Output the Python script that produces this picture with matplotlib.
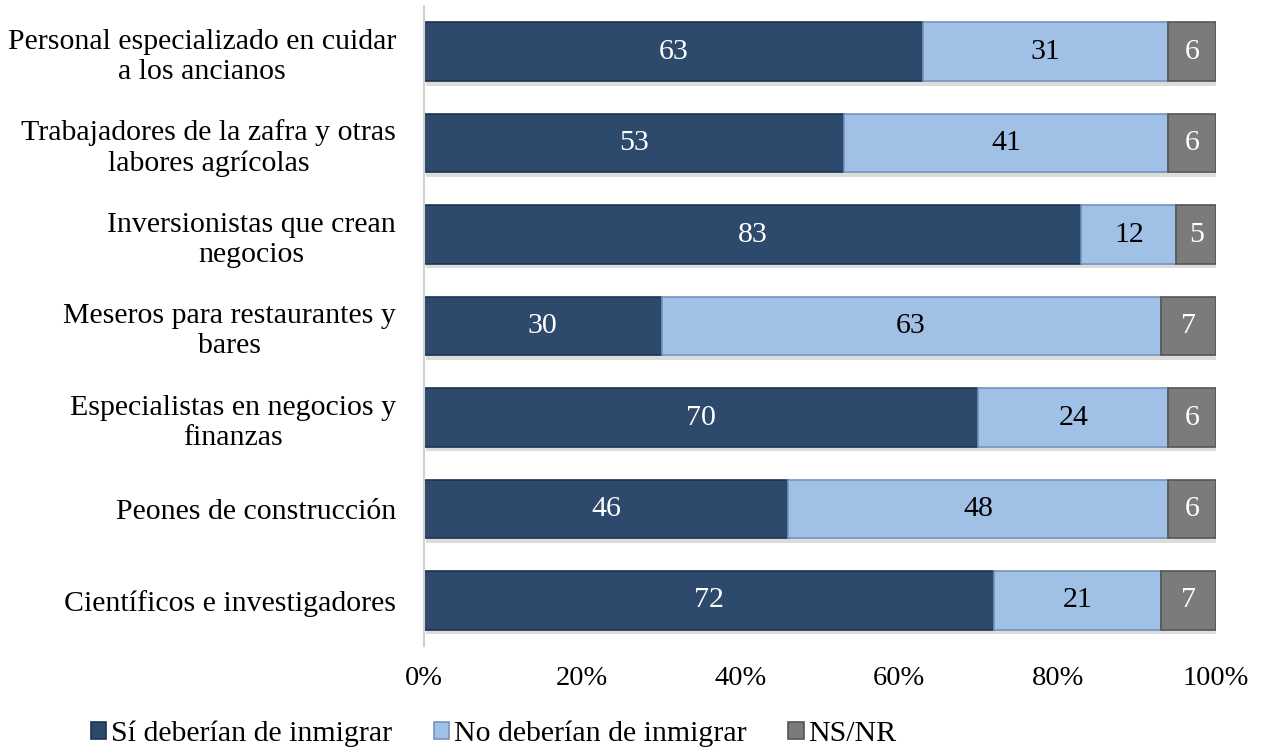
import matplotlib.pyplot as plt
import numpy as np

plt.rcParams['font.family'] = ['Liberation Serif', 'DejaVu Serif']

categories = [
    "Personal especializado en cuidar\na los ancianos",
    "Trabajadores de la zafra y otras\nlabores agrícolas",
    "Inversionistas que crean\nnegocios",
    "Meseros para restaurantes y\nbares",
    "Especialistas en negocios y\nfinanzas",
    "Peones de construcción",
    "Científicos e investigadores",
]
si = [63, 53, 83, 30, 70, 46, 72]
no = [31, 41, 12, 63, 24, 48, 21]
nsnr = [6, 6, 5, 7, 6, 6, 7]

series = [
    ("Sí deberían de inmigrar", si, "#2d4a6d", "#1d3350", "white"),
    ("No deberían de inmigrar", no, "#a0c0e6", "#7394be", "black"),
    ("NS/NR", nsnr, "#7b7b7b", "#555555", "white"),
]

FS = 21.5

fig = plt.figure(figsize=(12.64, 7.54), dpi=100)
ax = fig.add_axes([0.3354, 0.143, 0.6266, 0.849])

y = np.arange(len(categories))
left = np.zeros(len(categories))
for label, vals, color, edge, tcolor in series:
    vals = np.array(vals, dtype=float)
    # soft shadow under each segment
    ax.barh(y + 0.05, vals, left=left + 0.3, height=0.64,
            color="#dcdcdc", edgecolor="none", zorder=1)
    bars = ax.barh(y, vals, left=left, height=0.64, color=color,
                   edgecolor=edge, linewidth=1.2, label=label, zorder=2)
    for b, v in zip(bars, vals):
        ax.text(b.get_x() + b.get_width() / 2, b.get_y() + b.get_height() / 2,
                f"{v:.0f}", ha="center", va="center", color=tcolor,
                fontsize=FS, zorder=3)
    left += vals

ax.set_ylim(len(categories) - 0.5, -0.5)
ax.set_xlim(0, 100)
ax.set_yticks(y)
ax.set_yticklabels(categories, fontsize=FS, multialignment="center")
ax.set_xticks(np.arange(0, 101, 20))
ax.set_xticklabels([f"{t}%" for t in range(0, 101, 20)], fontsize=20.5)
ax.tick_params(axis="both", length=0)
ax.tick_params(axis="y", pad=20)
ax.tick_params(axis="x", pad=14)
for side in ("top", "right", "bottom"):
    ax.spines[side].set_visible(False)
ax.spines["left"].set_color("#d0d0d0")
ax.spines["left"].set_linewidth(1.5)

handles, labels = ax.get_legend_handles_labels()
fig.legend(handles, labels, loc="center left", bbox_to_anchor=(0.06, 0.027),
           ncol=3, frameon=False, fontsize=21.5, borderpad=0, handlelength=0.52,
           handleheight=0.52, handletextpad=0.15, columnspacing=1.4)

fig.savefig("out.png", dpi=100)
